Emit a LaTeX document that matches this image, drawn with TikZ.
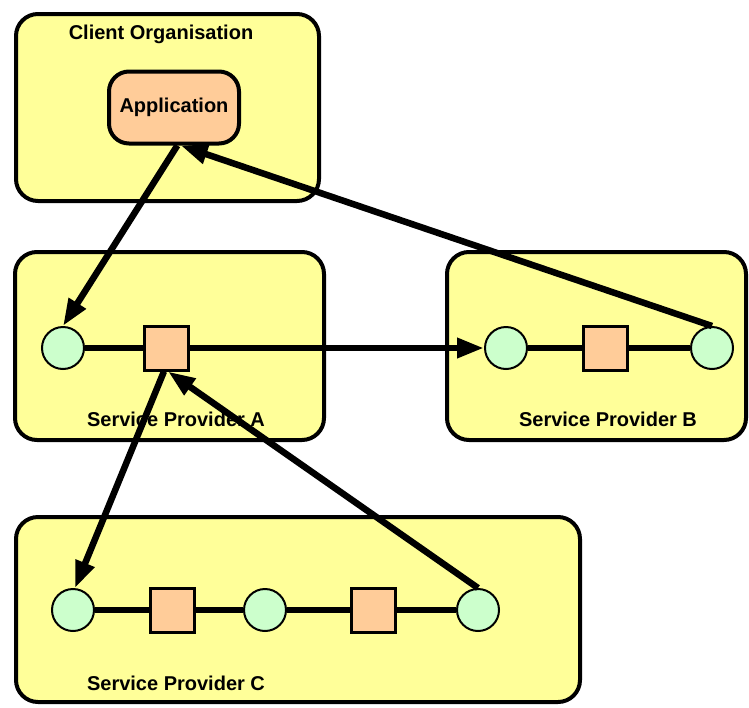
\documentclass[tikz,border=0pt]{standalone}
\usepackage{fontspec}
\setmainfont{Liberation Sans}
\usetikzlibrary{arrows.meta}

\definecolor{orgyellow}{HTML}{FFFF99}
\definecolor{peach}{HTML}{FFCC99}
\definecolor{mint}{HTML}{CCFFCC}

\begin{document}
\begin{tikzpicture}[x=1pt,y=-1pt,
  orgbox/.style={draw=black, line width=4pt, fill=orgyellow, rounded corners=22pt, inner sep=0pt},
  appbox/.style={draw=black, line width=4pt, fill=peach, rounded corners=20pt, inner sep=0pt,
    minimum width=130pt, minimum height=72pt, font=\fontsize{20}{22}\selectfont\bfseries},
  orglabel/.style={inner sep=0pt, font=\fontsize{20}{22}\selectfont\bfseries},
  endpoint/.style={circle, draw=black, line width=2pt, fill=mint, minimum size=42pt, inner sep=0pt},
  service/.style={rectangle, draw=black, line width=3pt, fill=peach, minimum size=44pt, inner sep=0pt},
  chain/.style={draw=black, line width=6pt},
  flow/.style={draw=black, line width=6.5pt, -{Triangle[length=27pt,width=19pt]}}
]
\useasboundingbox (0,0) rectangle (749,707);

% organisation boxes
\node[orgbox, minimum width=303pt, minimum height=187pt] (client) at (167.5,107.5) {};
\node[orgbox, minimum width=309pt, minimum height=188pt] (spa) at (169.5,346) {};
\node[orgbox, minimum width=299pt, minimum height=188pt] (spb) at (596.5,346) {};
\node[orgbox, minimum width=564pt, minimum height=185pt] (spc) at (298,609.5) {};

% box titles
\node[orglabel] (clientlbl) at (161,34) {Client Organisation};
\node[orglabel] (spalbl) at (176,419) {Service Provider A};
\node[orglabel] (spblbl) at (608,419) {Service Provider B};
\node[orglabel] (spclbl) at (176,683) {Service Provider C};

% application
\node[appbox] (app) at (174,107.5) {Application};

% provider A
\node[endpoint] (A1) at (63,348) {};
\node[service] (sqA) at (166,348) {};

% provider B
\node[endpoint] (B1) at (506,348) {};
\node[service] (sqB) at (605,348) {};
\node[endpoint] (B2) at (712,348) {};

% provider C
\node[endpoint] (C1) at (73,610) {};
\node[service] (sqC1) at (172,610) {};
\node[endpoint] (C2) at (265,610) {};
\node[service] (sqC2) at (373,610) {};
\node[endpoint] (C3) at (478,610) {};

% internal links
\draw[chain] (A1.east) -- (sqA.west);
\draw[chain] (B1.east) -- (sqB.west);
\draw[chain] (sqB.east) -- (B2.west);
\draw[chain] (C1.east) -- (sqC1.west);
\draw[chain] (sqC1.east) -- (C2.west);
\draw[chain] (C2.east) -- (sqC2.west);
\draw[chain] (sqC2.east) -- (C3.west);

% message flows
\draw[flow] (app.-85) -- (A1.north);
\draw[flow] (sqA.east) -- (B1.west);
\draw[flow] (B2.north) -- (app.-80);
\draw[flow] (sqA.-95) -- (C1.85);
\draw[flow] (C3.north) -- (sqA.-85);
\end{tikzpicture}
\end{document}
